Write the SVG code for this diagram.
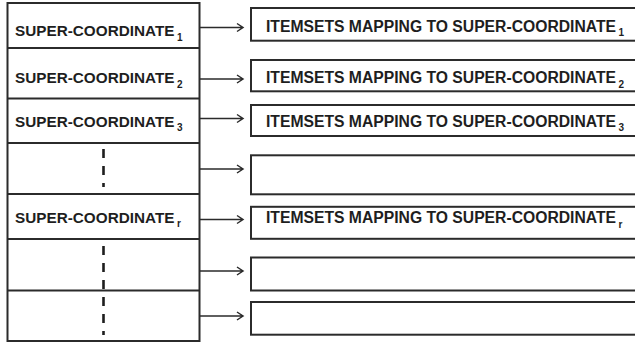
<svg xmlns="http://www.w3.org/2000/svg" width="635" height="344" viewBox="0 0 635 344">
<style>
.box{fill:#fff;stroke:#2b2b2b;stroke-width:2}
.div{stroke:#2b2b2b;stroke-width:2}
.t{font-family:"Liberation Sans",Arial,sans-serif;font-weight:bold;font-size:15.2px;fill:#1e1e1e}
.r{font-size:15.6px}
.s{font-size:10px}
.dash{stroke:#1e1e1e;stroke-width:2.6;stroke-dasharray:9 8;fill:none}
.arr{stroke:#2b2b2b;stroke-width:1.5;fill:none}
</style>
<rect width="635" height="344" fill="#fff"/>
<g id="left-table">
<rect class="box" x="7.5" y="3" width="192" height="338"/>
<line class="div" x1="7.5" y1="48" x2="199.5" y2="48"/>
<line class="div" x1="7.5" y1="98.5" x2="199.5" y2="98.5"/>
<line class="div" x1="7.5" y1="143" x2="199.5" y2="143"/>
<line class="div" x1="7.5" y1="194" x2="199.5" y2="194"/>
<line class="div" x1="7.5" y1="239" x2="199.5" y2="239"/>
<line class="div" x1="7.5" y1="290.5" x2="199.5" y2="290.5"/>
</g>
<g id="sc1"><text class="t" x="15" y="36"><tspan textLength="159.5" lengthAdjust="spacingAndGlyphs">SUPER-COORDINATE</tspan><tspan class="s" dx="2.5" dy="4.5">1</tspan></text></g>
<g id="sc2"><text class="t" x="15" y="83.3"><tspan textLength="159.5" lengthAdjust="spacingAndGlyphs">SUPER-COORDINATE</tspan><tspan class="s" dx="2.5" dy="4.5">2</tspan></text></g>
<g id="sc3"><text class="t" x="15" y="126.7"><tspan textLength="159.5" lengthAdjust="spacingAndGlyphs">SUPER-COORDINATE</tspan><tspan class="s" dx="2.5" dy="4.5">3</tspan></text></g>
<g id="dots1"><line class="dash" x1="103.5" y1="149" x2="103.5" y2="187"/></g>
<g id="scr"><text class="t" x="15" y="222.7"><tspan textLength="159.5" lengthAdjust="spacingAndGlyphs">SUPER-COORDINATE</tspan><tspan class="s" dx="2.5" dy="4.5">r</tspan></text></g>
<g id="dots2"><line class="dash" x1="103.5" y1="246" x2="103.5" y2="335"/></g>

<g id="item1"><rect class="box" x="251" y="8" width="400" height="32.7"/><text class="t r" x="266" y="31.7"><tspan textLength="350" lengthAdjust="spacingAndGlyphs">ITEMSETS MAPPING TO SUPER-COORDINATE</tspan><tspan class="s" dx="2.5" dy="4.5">1</tspan></text></g>
<g id="item2"><rect class="box" x="251" y="60" width="400" height="31.3"/><text class="t r" x="266" y="83.3"><tspan textLength="350" lengthAdjust="spacingAndGlyphs">ITEMSETS MAPPING TO SUPER-COORDINATE</tspan><tspan class="s" dx="2.5" dy="4.5">2</tspan></text></g>
<g id="item3"><rect class="box" x="251" y="105" width="400" height="31"/><text class="t r" x="266" y="126.7"><tspan textLength="350" lengthAdjust="spacingAndGlyphs">ITEMSETS MAPPING TO SUPER-COORDINATE</tspan><tspan class="s" dx="2.5" dy="4.5">3</tspan></text></g>
<g id="item4"><rect class="box" x="251" y="155.3" width="400" height="39"/></g>
<g id="itemr"><rect class="box" x="251" y="206.8" width="400" height="32"/><text class="t r" x="266" y="223.3"><tspan textLength="350" lengthAdjust="spacingAndGlyphs">ITEMSETS MAPPING TO SUPER-COORDINATE</tspan><tspan class="s" dx="2.5" dy="4.5">r</tspan></text></g>
<g id="item6"><rect class="box" x="251" y="257.5" width="400" height="33"/></g>
<g id="item7"><rect class="box" x="251" y="302" width="400" height="32.7"/></g>

<g id="connectors">
<path class="arr" d="M200 27.5H243M237 23.5L243 27.5L237 31.5"/>
<path class="arr" d="M200 79H243M237 75L243 79L237 83"/>
<path class="arr" d="M200 118.5H243M237 114.5L243 118.5L237 122.5"/>
<path class="arr" d="M200 169H243M237 165L243 169L237 173"/>
<path class="arr" d="M200 219.5H243M237 215.5L243 219.5L237 223.5"/>
<path class="arr" d="M200 271H243M237 267L243 271L237 275"/>
<path class="arr" d="M200 316H243M237 312L243 316L237 320"/>
</g>
</svg>
